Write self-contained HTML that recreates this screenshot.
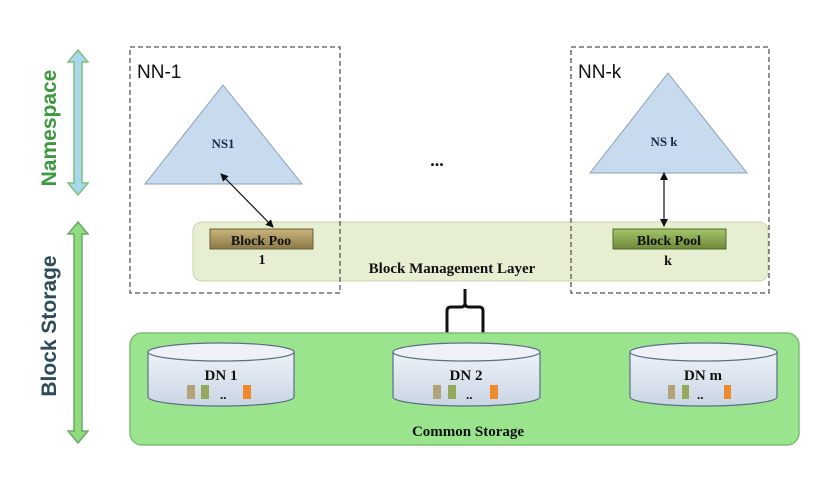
<!DOCTYPE html>
<html><head><style>
html,body{margin:0;padding:0;background:#fff;}
svg{display:block}
.s{font-family:"Liberation Serif",serif;font-weight:bold;}
.a{font-family:"Liberation Sans",sans-serif;}
</style></head><body>
<svg width="835" height="496" viewBox="0 0 835 496" xmlns="http://www.w3.org/2000/svg">
<defs>
<linearGradient id="cyl" x1="0" y1="0" x2="0" y2="1"><stop offset="0" stop-color="#eef2f8"/><stop offset="1" stop-color="#c9d5e3"/></linearGradient>
<linearGradient id="bp1" x1="0" y1="0" x2="0" y2="1"><stop offset="0" stop-color="#c9b47a"/><stop offset="1" stop-color="#8a7a48"/></linearGradient>
<linearGradient id="bpk" x1="0" y1="0" x2="0" y2="1"><stop offset="0" stop-color="#a6c46a"/><stop offset="1" stop-color="#6c8a38"/></linearGradient>
<marker id="ah" markerWidth="8" markerHeight="8" refX="7" refY="4" orient="auto-start-reverse" markerUnits="userSpaceOnUse"><path d="M0,0 L8,4 L0,8 Z" fill="#111"/></marker>
</defs>

<!-- left arrows -->
<path d="M78,50 L88,62 L82,62 L82,183 L88,183 L78,195 L68,183 L74,183 L74,62 L68,62 Z" fill="#a9d8ec" stroke="#7fbf7a" stroke-width="1.5"/>
<path d="M78,222 L88,234 L82,234 L82,431 L88,431 L78,443 L68,431 L74,431 L74,234 L68,234 Z" fill="#8fdc7f" stroke="#6aa86a" stroke-width="1.5"/>
<text class="a" transform="translate(56,128) rotate(-90)" text-anchor="middle" font-size="21" font-weight="bold" fill="#3c9a3c">Namespace</text>
<text class="a" transform="translate(56,326) rotate(-90)" text-anchor="middle" font-size="21" font-weight="bold" fill="#2d4a5a">Block Storage</text>

<!-- block management layer -->
<rect x="193" y="222" width="575" height="59" rx="9" fill="#e7efd2" stroke="#c9d3ab" stroke-width="1"/>
<text class="s" x="452" y="273" text-anchor="middle" font-size="15" fill="#111">Block Management Layer</text>

<!-- triangles -->
<polygon points="223,85 302,184 145,184" fill="#c8daee" stroke="#8aa0b8" stroke-width="1"/>
<text class="s" x="223" y="148" text-anchor="middle" font-size="13" fill="#1a2a4a">NS1</text>
<polygon points="668,73 747,173 590,173" fill="#c8daee" stroke="#8aa0b8" stroke-width="1"/>
<text class="s" x="664" y="146" text-anchor="middle" font-size="13" fill="#1a2a4a">NS k</text>

<!-- block pools -->
<rect x="210" y="229" width="103" height="20" fill="url(#bp1)" stroke="#6b5e34" stroke-width="1"/>
<text class="s" x="261" y="245" text-anchor="middle" font-size="14" fill="#111">Block Poo</text>
<text class="s" x="262" y="264" text-anchor="middle" font-size="14" fill="#111">1</text>
<rect x="613" y="229" width="113" height="20" fill="url(#bpk)" stroke="#4f6a2a" stroke-width="1"/>
<text class="s" x="669" y="245" text-anchor="middle" font-size="14" fill="#111">Block Pool</text>
<text class="s" x="668" y="265" text-anchor="middle" font-size="14" fill="#111">k</text>

<!-- connectors -->
<line x1="221" y1="174" x2="273" y2="227" stroke="#111" stroke-width="1.2" marker-start="url(#ah)" marker-end="url(#ah)"/>
<line x1="664" y1="173" x2="664" y2="226" stroke="#111" stroke-width="1.2" marker-start="url(#ah)" marker-end="url(#ah)"/>

<!-- dashed boxes -->
<rect x="130" y="47" width="210" height="246" fill="none" stroke="#555" stroke-width="1.3" stroke-dasharray="5,3"/>
<rect x="571" y="47" width="198" height="246" fill="none" stroke="#555" stroke-width="1.3" stroke-dasharray="5,3"/>
<text class="a" x="137" y="78" font-size="19" fill="#111">NN-1</text>
<text class="a" x="578" y="78" font-size="19" fill="#111">NN-k</text>
<text class="s" x="437" y="166" text-anchor="middle" font-size="18" fill="#111">...</text>

<!-- bracket -->
<path d="M465,289 L465,303 Q465,307 461,307 L451,307 Q447,307 447,311 L447,333 M465,303 Q465,307 469,307 L479,307 Q483,307 483,311 L483,333" fill="none" stroke="#111" stroke-width="3"/>

<!-- common storage -->
<rect x="130" y="333" width="669" height="112" rx="12" fill="#9ae48e" stroke="#7bbf70" stroke-width="1.5"/>
<text class="s" x="468" y="436" text-anchor="middle" font-size="15" fill="#111">Common Storage</text>

<!-- cylinders -->
<g>
<path d="M148,352 L148,397 A73,9 0 0 0 294,397 L294,352" fill="url(#cyl)" stroke="#5b6f86" stroke-width="1.2"/>
<ellipse cx="221" cy="352" rx="73" ry="9" fill="#eef2f8" stroke="#5b6f86" stroke-width="1.2"/>
<text class="s" x="221" y="380" text-anchor="middle" font-size="15" fill="#111">DN 1</text>
<rect x="187" y="385" width="8" height="14" fill="#b3a37a"/><rect x="201" y="385" width="8" height="14" fill="#94a95c"/>
<text class="s" x="220" y="399" font-size="13" fill="#111">..</text><rect x="243" y="385" width="8" height="14" fill="#ef8a2c"/>
</g>
<g>
<path d="M393,352 L393,397 A73.5,9 0 0 0 540,397 L540,352" fill="url(#cyl)" stroke="#5b6f86" stroke-width="1.2"/>
<ellipse cx="466.5" cy="352" rx="73.5" ry="9" fill="#eef2f8" stroke="#5b6f86" stroke-width="1.2"/>
<text class="s" x="466" y="380" text-anchor="middle" font-size="15" fill="#111">DN 2</text>
<rect x="433" y="385" width="8" height="14" fill="#b3a37a"/><rect x="448" y="385" width="8" height="14" fill="#94a95c"/>
<text class="s" x="466" y="399" font-size="13" fill="#111">..</text><rect x="490" y="385" width="8" height="14" fill="#ef8a2c"/>
</g>
<g>
<path d="M630,352 L630,397 A73.5,9 0 0 0 777,397 L777,352" fill="url(#cyl)" stroke="#5b6f86" stroke-width="1.2"/>
<ellipse cx="703.5" cy="352" rx="73.5" ry="9" fill="#eef2f8" stroke="#5b6f86" stroke-width="1.2"/>
<text class="s" x="703" y="380" text-anchor="middle" font-size="15" fill="#111">DN m</text>
<rect x="668" y="385" width="7" height="14" fill="#b3a37a"/><rect x="682" y="385" width="7" height="14" fill="#94a95c"/>
<text class="s" x="697" y="399" font-size="13" fill="#111">..</text><rect x="724" y="385" width="7" height="14" fill="#ef8a2c"/>
</g>
</svg>
</body></html>
